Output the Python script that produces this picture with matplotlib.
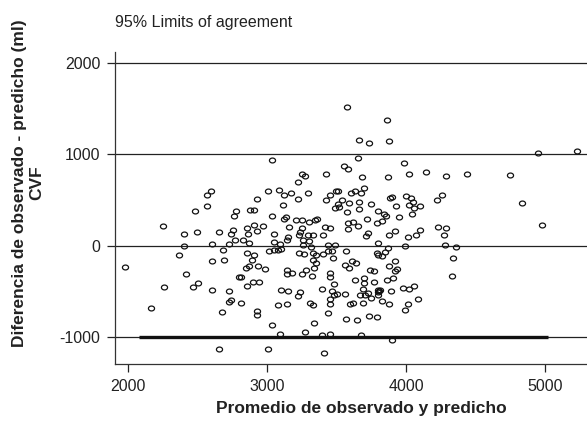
import numpy as np
import matplotlib
matplotlib.use("Agg")
import matplotlib.pyplot as plt
from matplotlib.path import Path

plt.rcParams['font.family'] = ['Liberation Sans', 'DejaVu Sans']
plt.rcParams['axes.unicode_minus'] = False

# Mean of observed and predicted (x) and difference observed - predicted (y)
x_mean = [
    1981, 2163, 2250, 2261, 2367, 2403, 2405, 2417, 2470, 2484, 2494, 2501, 2566, 2566, 2599,
    2602, 2602, 2606, 2652, 2652, 2676, 2683, 2688, 2726, 2728, 2728, 2741, 2741, 2758, 2764,
    2767, 2776, 2800, 2812, 2812, 2824, 2846, 2853, 2858, 2858, 2863, 2870, 2870, 2879, 2890,
    2897, 2904, 2906, 2908, 2927, 2927, 2930, 2930, 2937, 2944, 2973, 2985, 3009, 3009, 3016,
    3033, 3033, 3035, 3050, 3050, 3052, 3076, 3081, 3086, 3091, 3093, 3098, 3100, 3114, 3119,
    3124, 3134, 3141, 3141, 3141, 3145, 3148, 3150, 3160, 3172, 3177, 3206, 3220, 3220, 3225,
    3229, 3232, 3237, 3237, 3249, 3251, 3253, 3253, 3256, 3260, 3263, 3273, 3273, 3277, 3292,
    3296, 3301, 3304, 3309, 3318, 3325, 3332, 3332, 3332, 3332, 3337, 3340, 3345, 3352, 3352,
    3362, 3393, 3397, 3404, 3404, 3409, 3419, 3424, 3424, 3436, 3436, 3440, 3452, 3452, 3452,
    3452, 3452, 3452, 3454, 3465, 3467, 3476, 3481, 3481, 3488, 3488, 3496, 3505, 3508, 3512,
    3519, 3536, 3553, 3560, 3562, 3565, 3570, 3572, 3575, 3580, 3580, 3584, 3587, 3591, 3596,
    3605, 3608, 3616, 3616, 3632, 3634, 3639, 3649, 3656, 3656, 3661, 3661, 3663, 3668, 3673,
    3677, 3684, 3687, 3692, 3699, 3699, 3701, 3704, 3713, 3721, 3723, 3728, 3730, 3731, 3740,
    3745, 3749, 3769, 3771, 3788, 3788, 3792, 3798, 3798, 3800, 3800, 3800, 3800, 3806, 3812,
    3826, 3826, 3828, 3843, 3848, 3855, 3860, 3864, 3867, 3872, 3877, 3879, 3879, 3879, 3886,
    3891, 3898, 3900, 3908, 3920, 3920, 3920, 3925, 3932, 3946, 3979, 3982, 3989, 3994, 3997,
    4011, 4015, 4020, 4020, 4022, 4037, 4046, 4049, 4054, 4059, 4069, 4085, 4100, 4102, 4142,
    4224, 4231, 4262, 4274, 4277, 4284, 4284, 4332, 4339, 4363, 4440, 4747, 4831, 4948, 4981,
    5230,
]
y_diff = [
    -230, -685, 215, -451, -98, -7, 131, -306, -451, 383, 153, -408, 434, 557, 594,
    -167, -481, 19, 150, -1129, -725, -44, -153, -620, 14, -499, 131, -590, 175, 328,
    62, 383, -346, -340, -626, 62, -244, -80, 189, -437, 131, 33, -219, 386, -153,
    -401, 222, 386, -98, 514, 164, -718, -754, -226, -393, 211, -255, 598, -1133, -62,
    940, 328, -867, 36, -51, 131, -645, -44, 612, 22, -962, -488, -36, 451, 554,
    288, 314, 62, -270, -306, -637, -499, 95, 208, 576, -298, 277, 703, -554, 517,
    113, -80, 153, -510, 281, 193, 790, -306, 11, 66, -91, 768, -948, -262, 113,
    576, 55, 255, -626, -14, -335, 113, -80, -161, -652, -244, -849, 277, -98, -189,
    298, -973, -470, 113, -91, -1180, 208, 790, 506, 8, -62, -736, 554, -298, -342,
    -583, -634, -965, 197, -499, -55, -139, -415, -535, 412, 8, 594, -525, 462, 594,
    423, 499, 878, -208, -525, -798, -55, 364, 1516, 842, 178, 248, 470, -244, -634,
    576, -171, 262, -626, 594, -372, -189, -809, 965, 211, 1162, 484, 404, -535, -973,
    576, 751, -626, -473, -353, -408, 637, -535, 102, 288, 134, -517, -765, 1126, -270,
    -572, 456, -393, -281, -80, -779, 248, 30, 375, -102, -510, -543, -480, -495, -488,
    266, -109, -601, 350, -73, 320, 1374, -372, 751, -25, 1151, 117, -226, -634, 521,
    -499, 528, -1027, -353, 161, -171, -281, 434, -251, 314, -463, 907, -7, -707, 539,
    -634, 98, 790, 448, -473, 521, 346, 484, 415, -437, 117, -579, 172, 434, 809,
    499, 208, 557, 117, 3, 768, 189, -335, -135, -14, 790, 773, 470, 1020, 222,
    1038,
]

ref_lines = [2000, 1000, 0, -1000]
limit_value = -1000
limit_span = [2080, 5020]
x_ticks = [2000, 3000, 4000, 5000]
y_ticks = [-1000, 0, 1000, 2000]

fig = plt.figure(figsize=(5.87, 4.32), dpi=100)
ax = fig.add_axes([115 / 587, 68 / 432, 472 / 587, 312 / 432])

for v in ref_lines:
    ax.axhline(v, color='#222222', lw=0.9, zorder=1)
ax.plot(limit_span, [limit_value, limit_value], color='#111111', lw=2.4,
        solid_capstyle='butt', zorder=2)

t = np.linspace(0, 2 * np.pi, 40)
ell = Path(np.column_stack([1.25 * np.cos(t), np.sin(t)]))
ax.plot(x_mean, y_diff, linestyle='none', marker=ell, markersize=4.4,
        markerfacecolor='none', markeredgecolor='#111111', markeredgewidth=0.9,
        zorder=3)

ax.set_xlim(1906, 5302)
ax.set_ylim(-1295, 2121)
ax.set_xticks(x_ticks)
ax.set_yticks(y_ticks)
ax.tick_params(axis='both', direction='out', length=5.5, width=0.9,
               colors='#222222', labelsize=11.5)
ax.tick_params(axis='x', pad=5)
ax.tick_params(axis='y', pad=5)
for s in ['top', 'right']:
    ax.spines[s].set_visible(False)
for s in ['left', 'bottom']:
    ax.spines[s].set_color('#333333')
    ax.spines[s].set_linewidth(0.9)

fig.text(115 / 587, 1 - 22 / 432, '95% Limits of agreement', fontsize=11.5,
         ha='left', va='center', color='#222222')
fig.text(361 / 587, 1 - 408 / 432, 'Promedio de observado y predicho',
         fontsize=12.5, fontweight='bold', ha='center', va='center', color='#222222')
fig.text(28 / 587, 1 - 183 / 432, 'Diferencia de observado - predicho (ml)\nCVF',
         fontsize=12.5, fontweight='bold', ha='center', va='center',
         rotation=90, multialignment='center', color='#222222', linespacing=1.2)

fig.savefig('out.png', dpi=100)
